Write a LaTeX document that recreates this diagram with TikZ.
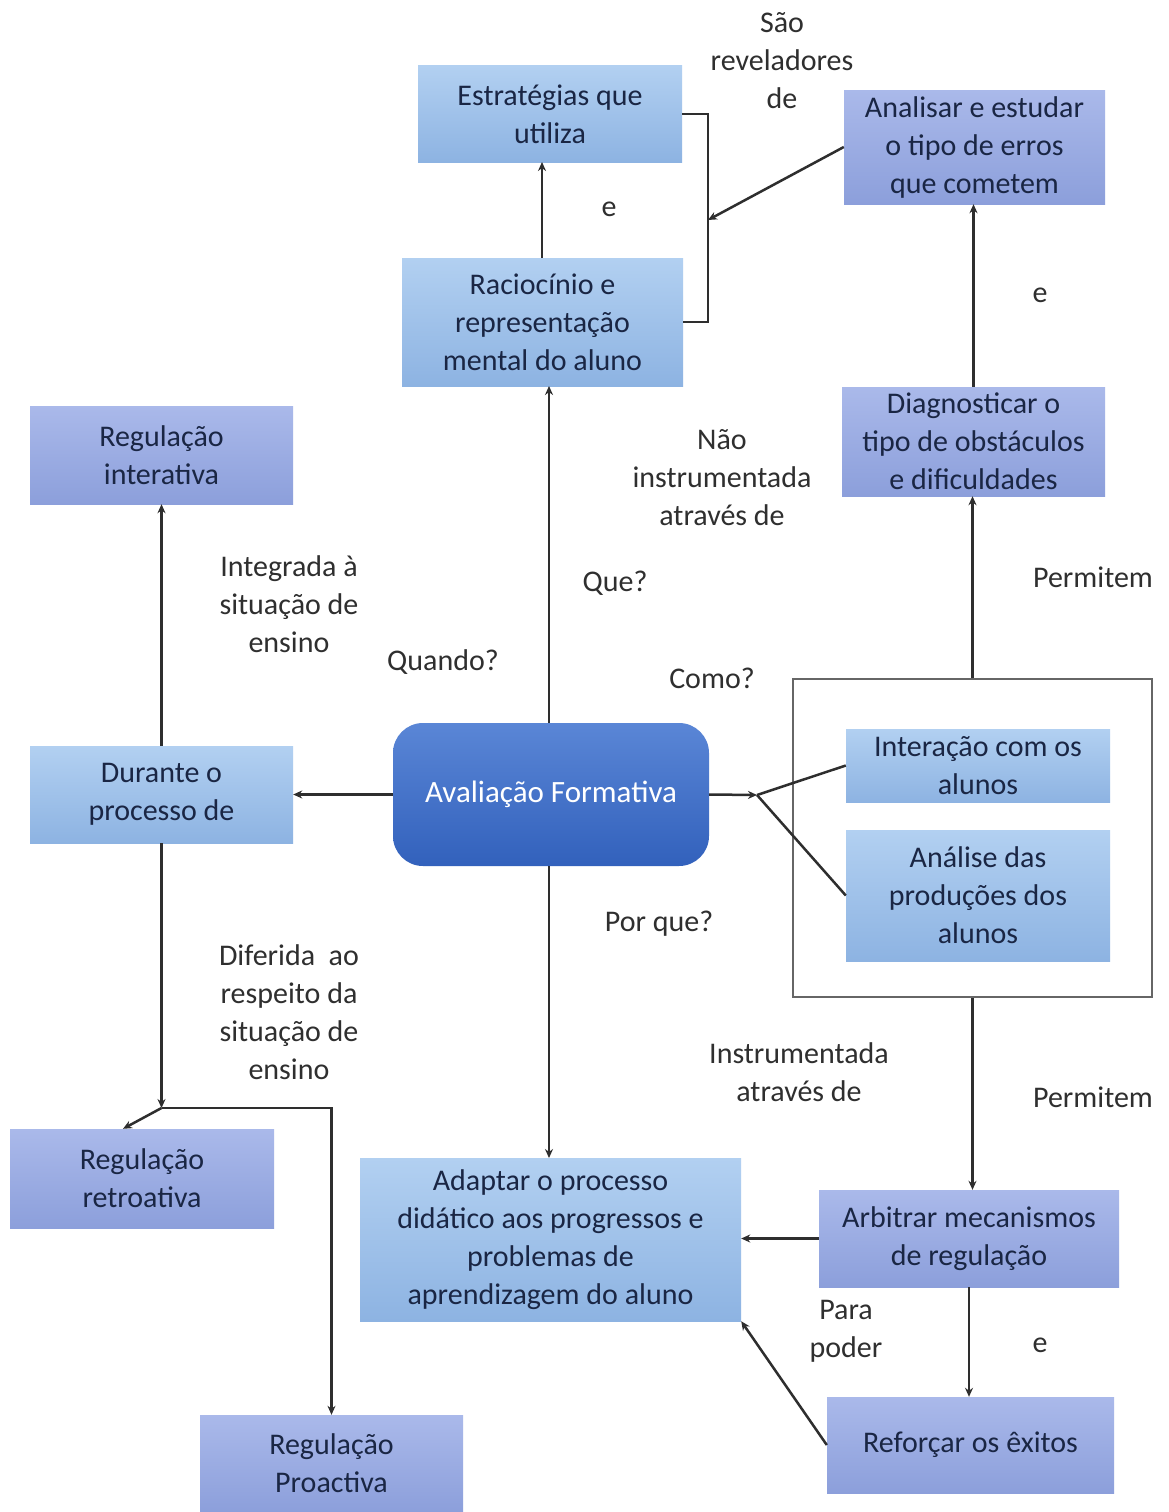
\documentclass[tikz,border=0pt]{standalone}
\usepackage{fontspec}
\setmainfont{Carlito}
\usetikzlibrary{arrows.meta}
\definecolor{lbtop}{HTML}{B2D0F1}
\definecolor{lbbot}{HTML}{8DB3E2}
\definecolor{lvtop}{HTML}{AAB9EA}
\definecolor{lvbot}{HTML}{8C9FDB}
\definecolor{avtop}{HTML}{5A86D6}
\definecolor{avbot}{HTML}{3261BC}
\definecolor{boxtxt}{HTML}{1A2644}
\definecolor{lbltxt}{HTML}{2F2F2F}
\definecolor{linec}{HTML}{2E2E2E}
\begin{document}
\begin{tikzpicture}[x=1pt,y=-1pt,
  box/.style={inner sep=0pt, align=center, text=boxtxt,
    font=\fontsize{30}{38}\selectfont},
  lb/.style={box, top color=lbtop, bottom color=lbbot},
  lv/.style={box, top color=lvtop, bottom color=lvbot},
  lbl/.style={align=center, text=lbltxt, inner sep=0pt,
    font=\fontsize{30}{38}\selectfont},
  con/.style={line width=2.5pt, draw=linec},
  arr/.style={con, -{Stealth[length=9pt,width=8pt]}},
]
\useasboundingbox[fill=white] (0,0) rectangle (1169,1512);

% frame grouping the two "how" nodes
\node[draw=gray!80!black, line width=1.8pt, fill=white, minimum width=359pt, minimum height=318pt, inner sep=0pt] (frame) at (972.5,838) {};

% boxes
\node[lb, minimum width=264pt, minimum height=96pt] (est) at (550,114) {Estratégias que\\utiliza};
\node[lb, minimum width=281pt, minimum height=128pt] (rac) at (542.5,322) {Raciocínio e\\representação\\mental do aluno};
\node[lv, minimum width=261pt, minimum height=114pt] (ana) at (974.5,147) {Analisar e estudar\\o tipo de erros\\que cometem};
\node[lv, minimum width=263pt, minimum height=109pt] (diag) at (973.5,441.5) {Diagnosticar o\\tipo de obstáculos\\e dificuldades};
\node[lv, minimum width=263pt, minimum height=98pt] (regi) at (161.5,455) {Regulação\\interativa};
\node[lb, minimum width=263pt, minimum height=97pt] (dur) at (161.5,794.5) {Durante o\\processo de};
\node[inner sep=0pt, rounded corners=30pt, top color=avtop, bottom color=avbot, text=white,
  minimum width=316pt, minimum height=143pt, font=\fontsize{31}{38}\selectfont] (av) at (551,794.5) {Avaliação Formativa};
\node[lb, minimum width=264pt, minimum height=73pt] (inter) at (978,765.5) {Interação com os\\alunos};
\node[lb, minimum width=264pt, minimum height=131pt] (anal) at (978,895.5) {Análise das\\produções dos\\alunos};
\node[lv, minimum width=264pt, minimum height=99pt] (regr) at (142,1178.5) {Regulação\\retroativa};
\node[lv, minimum width=263pt, minimum height=97pt] (regp) at (331.5,1463.5) {Regulação\\Proactiva};
\node[lb, minimum width=381pt, minimum height=163pt] (adap) at (550.5,1239.5) {Adaptar o processo\\didático aos progressos e\\problemas de\\aprendizagem do aluno};
\node[lv, minimum width=300pt, minimum height=97pt] (arb) at (969,1238.5) {Arbitrar mecanismos\\de regulação};
\node[lv, minimum width=287pt, minimum height=96pt] (ref) at (970.5,1445) {Reforçar os êxitos};

% junction points
\coordinate (brk) at (708,220);
\coordinate (fk) at (757,795);
\coordinate (j1) at (161.5,1108);

% connectors
\draw[arr] (rac.north -| 542,0) -- (542,162);
\draw[con] (est.east) -| (brk) |- (rac.east);
\draw[arr] (ana.west) -- (brk);
\draw[arr] (diag.north) -- (diag.north |- ana.south);
\draw[arr] (frame.north) -- (frame.north |- diag.south);
\draw[arr] (av.north -| 549,0) -- (549,386);
\draw[arr] (av.west) -- (dur.east);
\draw[arr] (dur.north) -- (regi.south);
\draw[arr] (dur.south) -- (j1);
\draw[arr] (j1) -- ([xshift=-19pt]regr.north);
\draw[arr] (j1) -| (regp.north);
\draw[arr] (av.east) -- (fk);
\draw[con] (fk) -- (inter.west);
\draw[con] (fk) -- (anal.west);
\draw[arr] (av.south -| 549,0) -- (549,1158);
\draw[arr] (frame.south) -- (frame.south |- arb.north);
\draw[arr] (arb.west) -- (arb.west -| adap.east);
\draw[arr] (arb.south) -- (arb.south |- ref.north);
\draw[arr] (ref.west) -- (adap.south east);

% connector labels
\node[lbl] (l1) at (782,61) {São\\reveladores\\de};
\node[lbl] (l2) at (609,209) {e};
\node[lbl] (l3) at (1040,295) {e};
\node[lbl] (l4) at (722,478) {Não\\instrumentada\\através de};
\node[lbl] (l5) at (1093,577) {Permitem};
\node[lbl] (l6) at (289,604) {Integrada à\\situação de\\ensino};
\node[lbl] (l7) at (615,583) {Que?};
\node[lbl] (l8) at (443,662) {Quando?};
\node[lbl] (l9) at (712,678) {Como?};
\node[lbl] (l10) at (659,924) {Por que?};
\node[lbl] (l11) at (289,1012) {Diferida\ \ ao\\respeito da\\situação de\\ensino};
\node[lbl] (l12) at (799,1072) {Instrumentada\\através de};
\node[lbl] (l13) at (1093,1097) {Permitem};
\node[lbl] (l14) at (846,1331) {Para\\poder};
\node[lbl] (l15) at (1040,1345) {e};
\end{tikzpicture}
\end{document}
